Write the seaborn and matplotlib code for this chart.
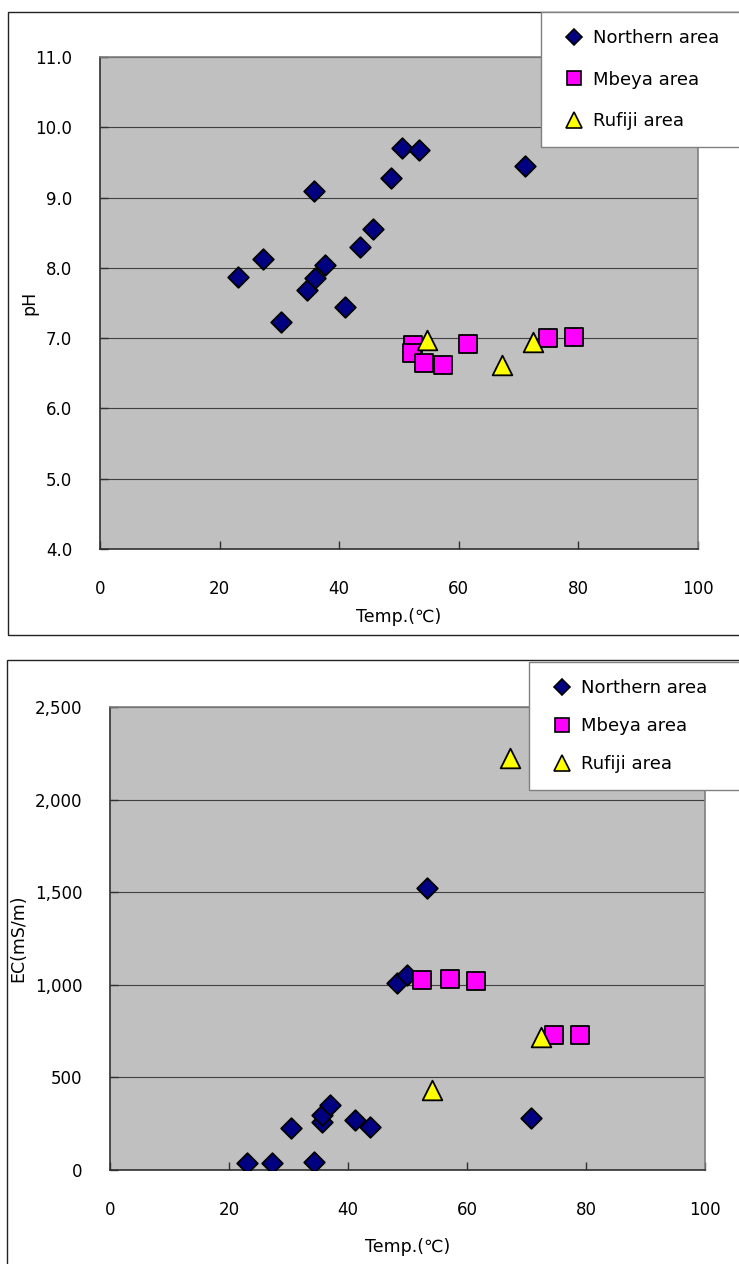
import matplotlib
matplotlib.use("Agg")
import matplotlib.pyplot as plt
import seaborn as sns
from matplotlib.lines import Line2D
from matplotlib.patches import Rectangle
from matplotlib.ticker import FuncFormatter, MultipleLocator

# pH vs temperature
north_temp_ph = [23.1, 27.2, 30.2, 34.6, 35.8, 35.9, 37.6, 40.9, 43.5, 45.7, 48.7, 50.5, 53.3, 71.1]
north_ph = [7.87, 8.12, 7.23, 7.69, 9.09, 7.85, 8.04, 7.44, 8.29, 8.55, 9.28, 9.71, 9.68, 9.45]
mbeya_temp_ph = [52.4, 52.1, 54.1, 57.4, 61.5, 74.9, 79.2]
mbeya_ph = [6.90, 6.79, 6.64, 6.62, 6.91, 7.00, 7.02]
rufiji_temp_ph = [54.6, 67.3, 72.4]
rufiji_ph = [6.97, 6.62, 6.95]

# EC vs temperature
north_temp_ec = [23.0, 27.3, 30.4, 34.3, 35.6, 35.7, 37.0, 41.2, 43.7, 48.2, 49.9, 53.3, 70.8]
north_ec = [36, 36, 225, 43, 261, 297, 351, 270, 234, 1009, 1054, 1524, 279]
mbeya_temp_ec = [52.4, 57.1, 61.5, 74.6, 79.0]
mbeya_ec = [1027, 1030, 1022, 728, 728]
rufiji_temp_ec = [54.2, 67.3, 72.4]
rufiji_ec = [432, 2225, 720]

area_names = ["Northern area", "Mbeya area", "Rufiji area"]

sns.set_style("white")
plt.rcParams["font.family"] = ["DejaVu Sans"]
plt.rcParams["text.color"] = "black"
plt.rcParams["axes.labelcolor"] = "black"
plt.rcParams["xtick.labelcolor"] = "black"
plt.rcParams["ytick.labelcolor"] = "black"

W, H = 739, 1264
fig = plt.figure(figsize=(W / 100, H / 100), dpi=100)

styles = [
    dict(marker="D", color="#000080", s=110),
    dict(marker="s", color="#FF00FF", s=150),
    dict(marker="^", color="#FFFF00", s=200),
]


def px_axes(left, top, right, bottom):
    return fig.add_axes([left / W, 1 - bottom / H, (right - left) / W, (bottom - top) / H])


def style_axes(ax):
    ax.set_facecolor("#C0C0C0")
    ax.set_axisbelow(True)
    ax.grid(axis="y", color="#404040", linewidth=0.8)
    ax.grid(axis="x", visible=False)
    for side in ["left", "bottom"]:
        ax.spines[side].set_color("#303030")
        ax.spines[side].set_linewidth(1.2)
    for side in ["top", "right"]:
        ax.spines[side].set_color("#808080")
        ax.spines[side].set_linewidth(1.2)
    ax.tick_params(axis="both", direction="in", length=6, width=1, color="#303030",
                   labelsize=12, labelcolor="black", bottom=True, left=True)
    ax.tick_params(axis="x", pad=22)
    ax.tick_params(axis="y", pad=20)
    ax.set_xlim(0, 100)
    ax.xaxis.set_major_locator(MultipleLocator(20))


def draw_series(ax, data):
    for (xs, ys), st in zip(data, styles):
        sns.scatterplot(x=xs, y=ys, ax=ax, marker=st["marker"], color=st["color"],
                        s=st["s"], edgecolor="black", linewidth=1.3, legend=False, zorder=3)


def add_legend(left, top, bottom, spacing):
    handles = [
        Line2D([], [], linestyle="none", marker="D", markerfacecolor="#000080",
               markeredgecolor="black", markeredgewidth=1.2, markersize=8.5),
        Line2D([], [], linestyle="none", marker="s", markerfacecolor="#FF00FF",
               markeredgecolor="black", markeredgewidth=1.2, markersize=9.5),
        Line2D([], [], linestyle="none", marker="^", markerfacecolor="#FFFF00",
               markeredgecolor="black", markeredgewidth=1.2, markersize=11.5),
    ]
    leg = fig.legend(handles, area_names, loc="upper left",
                     bbox_to_anchor=(left / W, 1 - bottom / H, (W + 4 - left) / W, (bottom - top) / H),
                     bbox_transform=fig.transFigure, mode="expand",
                     frameon=True, fancybox=False, edgecolor="#808080", framealpha=1,
                     borderaxespad=0, fontsize=13, handlelength=1.8, handletextpad=0.15,
                     labelspacing=spacing, borderpad=0.95, labelcolor="black")
    leg.get_frame().set_linewidth(1.0)
    leg.set_zorder(10)


# outer frames
fig.add_artist(Rectangle((8 / W, 1 - 635 / H), (W - 8 + 5) / W, (635 - 12) / H,
                         transform=fig.transFigure, fill=False, edgecolor="#222222",
                         linewidth=1.0, clip_on=False))
fig.add_artist(Rectangle((7 / W, 1 - (H + 5) / H), (W - 7 + 5) / W, (H + 5 - 660) / H,
                         transform=fig.transFigure, fill=False, edgecolor="#222222",
                         linewidth=1.0, clip_on=False))

# top chart: pH
ax1 = px_axes(100, 57, 698, 549)
style_axes(ax1)
draw_series(ax1, [(north_temp_ph, north_ph), (mbeya_temp_ph, mbeya_ph), (rufiji_temp_ph, rufiji_ph)])
ax1.set_ylim(4, 11)
ax1.yaxis.set_major_locator(MultipleLocator(1))
ax1.yaxis.set_major_formatter(FuncFormatter(lambda v, p: f"{v:.1f}"))
ax1.set_xlabel("Temp.(℃)", fontsize=12.5)
ax1.set_ylabel("pH", fontsize=12.5)
ax1.xaxis.set_label_coords(0.5, -(608 - 549) / 492)
ax1.yaxis.set_label_coords((38 - 100) / 598, 0.5)
add_legend(541, 12, 142, 1.3)

# bottom chart: EC
ax2 = px_axes(110, 707, 705, 1170)
style_axes(ax2)
draw_series(ax2, [(north_temp_ec, north_ec), (mbeya_temp_ec, mbeya_ec), (rufiji_temp_ec, rufiji_ec)])
ax2.set_ylim(0, 2500)
ax2.yaxis.set_major_locator(MultipleLocator(500))
ax2.yaxis.set_major_formatter(FuncFormatter(lambda v, p: f"{v:,.0f}"))
ax2.set_xlabel("Temp.(℃)", fontsize=12.5)
ax2.set_ylabel("EC(mS/m)", fontsize=12.5)
ax2.xaxis.set_label_coords(0.5, -(1238 - 1170) / 463)
ax2.yaxis.set_label_coords((27 - 110) / 595, 0.5)
add_legend(529, 662, 784, 1.1)

fig.savefig("out.png", dpi=100)
